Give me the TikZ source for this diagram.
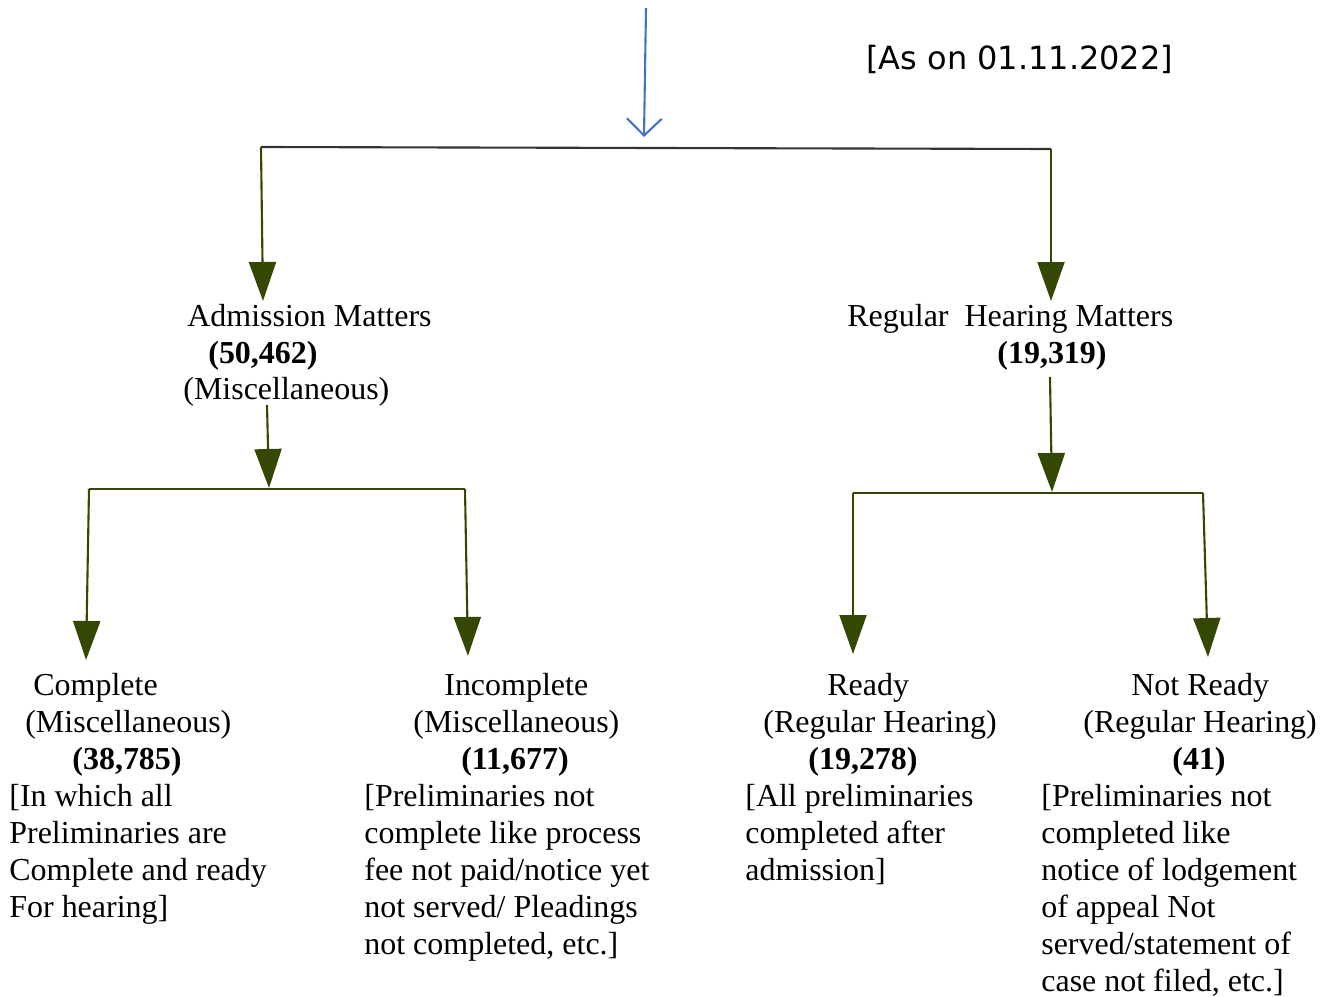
\documentclass[tikz,border=0pt]{standalone}
\usepackage{fontspec}
\setmainfont{Liberation Serif}
\newfontfamily\datefont{DejaVu Sans}
\usetikzlibrary{arrows.meta}
\definecolor{branchcol}{RGB}{52,72,4}
\definecolor{barcol}{RGB}{51,51,51}
\definecolor{incol}{RGB}{68,114,196}
\tikzset{
    txt/.style={font=\fontsize{18.2pt}{21pt}\selectfont, inner sep=0pt, anchor=base west},
    num/.style={txt, font=\fontsize{18.2pt}{21pt}\selectfont\bfseries, anchor=base},
    branch/.style={draw=branchcol, line width=1.2pt},
    down/.style={branch, -{Triangle[length=0.78cm, width=0.54cm]}, branchcol}
}

\begin{document}
\begin{tikzpicture}[x=0.02cm, y=-0.02cm]
    \useasboundingbox (0, 0) rectangle (1333, 997);

    % junction points
    \coordinate (in) at (646, 8);
    \coordinate (hub) at (644, 137);
    \coordinate (barL) at (261, 147);
    \coordinate (barR) at (1051, 149);
    \coordinate (admTip) at (263, 301);
    \coordinate (regTip) at (1051, 301);
    \coordinate (admOut) at (267, 405);
    \coordinate (admHub) at (269, 488);
    \coordinate (admL) at (89, 489);
    \coordinate (admR) at (465, 489);
    \coordinate (cmplTip) at (86, 660);
    \coordinate (incmTip) at (468, 656);
    \coordinate (regOut) at (1050, 377);
    \coordinate (regHub) at (1052, 492);
    \coordinate (regL) at (853, 493);
    \coordinate (regR) at (1203, 493);
    \coordinate (rdyTip) at (853, 654);
    \coordinate (nrdyTip) at (1208, 657);

    \node [txt, font=\fontsize{18.2pt}{21pt}\datefont] (date) at (866, 70) {[As on 01.11.2022]};

    % top level
    \node [txt] (adm1) at (187, 326) {Admission Matters};
    \node [num, anchor=base west] (adm2) at (208, 363) {(50,462)};
    \node [txt] (adm3) at (183, 399) {(Miscellaneous)};
    \node [txt] (reg1) at (847, 326) {Regular\ \ Hearing Matters};
    \node [num] (reg2) at (1052, 363) {(19,319)};

    % second level
    \node [txt] (cmpl1) at (33, 695) {Complete};
    \node [txt] (cmpl2) at (25, 732) {(Miscellaneous)};
    \node [num] (cmpl3) at (127, 769) {(38,785)};
    \foreach \t [count=\i] in {[In which all, Preliminaries are, Complete and ready, For hearing]}
        \node [txt] (cmplx-\i) at (9, 769 + 37*\i) {\t};

    \node [txt] (incm1) at (444, 695) {Incomplete};
    \node [txt] (incm2) at (413, 732) {(Miscellaneous)};
    \node [num] (incm3) at (515, 769) {(11,677)};
    \foreach \t [count=\i] in {[Preliminaries not, complete like process, fee not paid/notice yet, not served/ Pleadings, {not completed, etc.]}}
        \node [txt] (incmx-\i) at (364, 769 + 37*\i) {\t};

    \node [txt] (rdy1) at (827, 695) {Ready};
    \node [txt] (rdy2) at (763, 732) {(Regular Hearing)};
    \node [num] (rdy3) at (863, 769) {(19,278)};
    \foreach \t [count=\i] in {[All preliminaries, completed after, admission]}
        \node [txt] (rdyx-\i) at (745, 769 + 37*\i) {\t};

    \node [txt] (nrdy1) at (1131, 695) {Not Ready};
    \node [txt] (nrdy2) at (1083, 732) {(Regular Hearing)};
    \node [num] (nrdy3) at (1199, 769) {(41)};
    \foreach \t [count=\i] in {[Preliminaries not, completed like, notice of lodgement, of appeal Not, served/statement of, {case not filed, etc.]}}
        \node [txt] (nrdyx-\i) at (1041, 769 + 37*\i) {\t};

    % connectors
    \draw [incol, line width=1.2pt, -{Straight Barb[length=0.34cm, width=0.7cm]}] (in) -- (hub);
    \draw [barcol, line width=1.2pt] (barL) -- (barR);
    \draw [down] (barL) -- (admTip);
    \draw [down] (barR) -- (regTip);

    \draw [down] (admOut) -- (admHub);
    \draw [branch] (admL) -- (admR);
    \draw [down] (admL) -- (cmplTip);
    \draw [down] (admR) -- (incmTip);

    \draw [down] (regOut) -- (regHub);
    \draw [branch] (regL) -- (regR);
    \draw [down] (regL) -- (rdyTip);
    \draw [down] (regR) -- (nrdyTip);
\end{tikzpicture}
\end{document}
